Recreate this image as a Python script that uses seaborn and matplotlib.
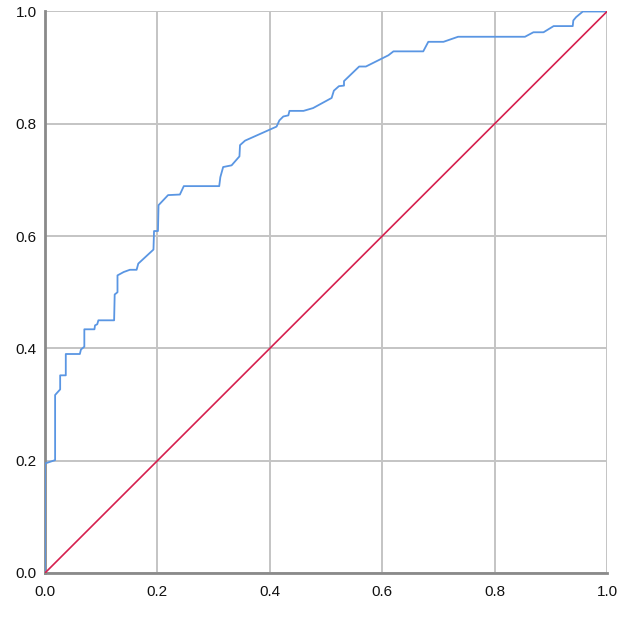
import numpy as np
import pandas as pd
import seaborn as sns
import matplotlib
matplotlib.use("Agg")
import matplotlib.pyplot as plt

### ROC curve points ###
fpr = [0.000, 0.000, 0.018, 0.018, 0.027, 0.027, 0.037, 0.037, 0.062, 0.064,
       0.070, 0.070, 0.088, 0.089, 0.093, 0.095, 0.123, 0.124, 0.129, 0.129,
       0.140, 0.151, 0.163, 0.166, 0.193, 0.194, 0.201, 0.202, 0.219, 0.240,
       0.247, 0.310, 0.312, 0.317, 0.332, 0.346, 0.347, 0.356, 0.412, 0.417,
       0.424, 0.433, 0.435, 0.460, 0.477, 0.510, 0.514, 0.523, 0.532, 0.532,
       0.559, 0.571, 0.611, 0.620, 0.673,
       0.682, 0.709, 0.735, 0.854, 0.869, 0.887, 0.905, 0.939, 0.940, 0.945,
       0.957, 1.000]
tpr = [0.000, 0.195, 0.201, 0.317, 0.327, 0.352, 0.352, 0.390, 0.390, 0.398,
       0.403, 0.434, 0.434, 0.441, 0.443, 0.450, 0.450, 0.496, 0.500, 0.530,
       0.536, 0.540, 0.540, 0.551, 0.576, 0.609, 0.609, 0.655, 0.673, 0.674,
       0.689, 0.689, 0.705, 0.723, 0.726, 0.742, 0.762, 0.770, 0.795, 0.806,
       0.813, 0.815, 0.823, 0.823, 0.828, 0.846, 0.859, 0.867, 0.868, 0.876,
       0.902, 0.902, 0.922, 0.929, 0.929,
       0.946, 0.946, 0.955, 0.955, 0.963, 0.963, 0.974, 0.974, 0.984, 0.990,
       1.000, 1.000]

ref_x = [0.0, 1.0]
ref_y = [0.0, 1.0]
ticks = [0.0, 0.2, 0.4, 0.6, 0.8, 1.0]

sns.set_style("whitegrid")
plt.rcParams["font.family"] = ["Liberation Sans", "DejaVu Sans"]

fig = plt.figure(figsize=(6.24, 6.28), dpi=100)
ax = fig.add_axes([0.0721, 0.0876, 0.9007, 0.8941])

roc = pd.DataFrame({"fpr": fpr, "tpr": tpr})
ref = pd.DataFrame({"x": ref_x, "y": ref_y})

# estimator=None so repeated fpr values stay as vertical steps
sns.lineplot(data=roc, x="fpr", y="tpr", sort=False, estimator=None,
             color="#5a96e3", lw=1.3, ax=ax, zorder=3)
sns.lineplot(data=ref, x="x", y="y", sort=False, estimator=None,
             color="#d61f4e", lw=1.2, ax=ax, zorder=4)

ax.set_xlim(0, 1)
ax.set_ylim(0, 1)
ax.set_xticks(ticks)
ax.set_yticks(ticks)
ax.set_xticklabels([f"{t:.1f}" for t in ticks])
ax.set_yticklabels([f"{t:.1f}" for t in ticks])
ax.set_xlabel("")
ax.set_ylabel("")

ax.grid(True, color="#c4c4c4", lw=1.4)
ax.tick_params(axis="both", length=0, labelsize=11, colors="#111111")
ax.tick_params(axis="x", pad=9)
ax.tick_params(axis="y", pad=6)

for side in ["top", "right"]:
    ax.spines[side].set_visible(False)
for side in ["left", "bottom"]:
    ax.spines[side].set_color("#8a8a8a")
    ax.spines[side].set_linewidth(2)

fig.savefig("out.png", dpi=100)
